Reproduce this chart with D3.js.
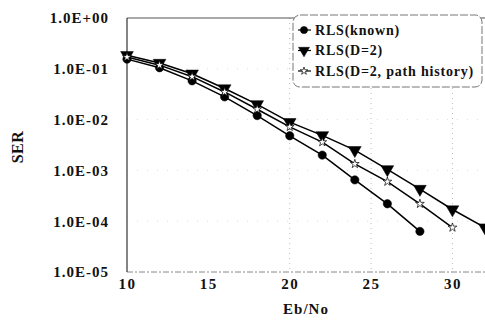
<!DOCTYPE html>
<html>
<head>
<meta charset="utf-8">
<script src="https://cdn.jsdelivr.net/npm/d3@7"></script>
<style>
  body { margin: 0; background: #fff; }
  svg text { font-family: "Liberation Serif", "Times New Roman", serif !important; font-weight: bold; fill: #111; }
</style>
</head>
<body>
<svg id="chart"></svg>
<script>
// SER vs Eb/No, three receivers
var ebnoKnown = [10, 12, 14, 16, 18, 20, 22, 24, 26, 28];
var serKnown  = [0.155, 0.105, 0.058, 0.028, 0.012, 0.0048, 0.0020, 0.00065, 0.00022, 0.000063];

var ebnoD2 = [10, 12, 14, 16, 18, 20, 22, 24, 26, 28, 30, 32];
var serD2  = [0.185, 0.13, 0.08, 0.041, 0.020, 0.0089, 0.0049, 0.0025, 0.00105, 0.00043, 0.00017, 0.000075];

var ebnoPath = [10, 12, 14, 16, 18, 20, 22, 24, 26, 28, 30];
var serPath  = [0.17, 0.118, 0.07, 0.035, 0.016, 0.0072, 0.0036, 0.00134, 0.0006, 0.00022, 0.000075];

var xTicks = [10, 15, 20, 25, 30];
var yTicks = [1, 1e-1, 1e-2, 1e-3, 1e-4, 1e-5];
var yTickLabels = ["1.0E+00", "1.0E-01", "1.0E-02", "1.0E-03", "1.0E-04", "1.0E-05"];
var seriesNames = ["RLS(known)", "RLS(D=2)", "RLS(D=2, path history)"];

var width = 485, height = 322;
var svg = d3.select("#chart").attr("width", width).attr("height", height);

var x = d3.scaleLinear().domain([10, 32]).range([127, 485]);
var y = d3.scaleLog().domain([1e-5, 1]).range([272, 18]);

// faint dotted grid
svg.append("g").selectAll("line").data([20, 25, 30]).join("line")
    .attr("x1", d => x(d)).attr("x2", d => x(d))
    .attr("y1", y(1)).attr("y2", y(1e-5))
    .attr("stroke", "#bbb").attr("stroke-width", 1).attr("stroke-dasharray", "1,4");
svg.append("g").selectAll("line").data([1e-1, 1e-2, 1e-3, 1e-4]).join("line")
    .attr("x1", x(10)).attr("x2", x(32))
    .attr("y1", d => y(d)).attr("y2", d => y(d))
    .attr("stroke", "#ddd").attr("stroke-width", 1).attr("stroke-dasharray", "1,9");

// frame
svg.append("line").attr("x1", x(10)).attr("x2", x(32)).attr("y1", y(1)).attr("y2", y(1))
    .attr("stroke", "#555").attr("stroke-width", 1);
svg.append("line").attr("x1", x(10)).attr("x2", x(32)).attr("y1", y(1e-5)).attr("y2", y(1e-5))
    .attr("stroke", "#888").attr("stroke-width", 1).attr("stroke-dasharray", "6,2,2,2");
svg.append("line").attr("x1", x(10)).attr("x2", x(10)).attr("y1", y(1)).attr("y2", y(1e-5))
    .attr("stroke", "#333").attr("stroke-width", 1.2);

// axes labels
var xAxis = d3.axisBottom(x).tickValues(xTicks).tickSize(0).tickPadding(6);
var gx = svg.append("g").attr("transform", "translate(0," + y(1e-5) + ")").call(xAxis)
    .attr("font-family", null);
gx.select(".domain").remove();
gx.selectAll("text").style("font-size", "15px").style("letter-spacing", "1.5px").attr("fill", "#111");

var yAxis = d3.axisLeft(y).tickValues(yTicks).tickSize(0).tickPadding(18)
    .tickFormat((d, i) => yTickLabels[i]);
var gy = svg.append("g").attr("transform", "translate(" + x(10) + ",0)").call(yAxis)
    .attr("font-family", null);
gy.select(".domain").remove();
gy.selectAll("text").style("font-size", "15px").style("letter-spacing", "1px").attr("fill", "#111");

svg.append("text").attr("x", x(21)).attr("y", 314).attr("text-anchor", "middle")
    .style("font-size", "15px").style("letter-spacing", "1px").text("Eb/No");
svg.append("text").attr("transform", "translate(23,147) rotate(-90)")
    .attr("text-anchor", "middle").style("font-size", "16px").style("letter-spacing", "0.5px").text("SER");

// series
var line = d3.line().x(d => x(d[0])).y(d => y(d[1]));
var series = [
  { xs: ebnoKnown, ys: serKnown, sym: d3.symbolCircle, size: 55, fill: "#000", rot: 0 },
  { xs: ebnoD2, ys: serD2, sym: d3.symbolTriangle, size: 70, fill: "#000", rot: 180 },
  { xs: ebnoPath, ys: serPath, sym: d3.symbolStar, size: 24, fill: "#fff", rot: 0 }
];

series.forEach(function (s) {
  var pts = s.xs.map((v, i) => [v, s.ys[i]]);
  svg.append("path").datum(pts).attr("d", line)
      .attr("fill", "none").attr("stroke", "#000").attr("stroke-width", 1.5);
});
series.forEach(function (s) {
  var pts = s.xs.map((v, i) => [v, s.ys[i]]);
  svg.append("g").selectAll("path").data(pts).join("path")
      .attr("d", d3.symbol().type(s.sym).size(s.size))
      .attr("transform", d => "translate(" + x(d[0]) + "," + y(d[1]) + ") rotate(" + s.rot + ")")
      .attr("fill", s.fill).attr("stroke", "#000").attr("stroke-width", s.fill === "#fff" ? 0.7 : 0.5);
});

// legend
var lg = svg.append("g");
lg.append("rect").attr("x", 293).attr("y", 15).attr("width", 189).attr("height", 72)
    .attr("rx", 7).attr("fill", "#fff").attr("stroke", "#777").attr("stroke-width", 1)
    .attr("stroke-dasharray", "8,2");
seriesNames.forEach(function (name, i) {
  var s = series[i], cy = 30 + i * 20.5;
  lg.append("line").attr("x1", 298).attr("x2", 311).attr("y1", cy).attr("y2", cy)
      .attr("stroke", "#000").attr("stroke-width", 1.2);
  lg.append("path").attr("d", d3.symbol().type(s.sym).size(s.size * 0.75))
      .attr("transform", "translate(304," + cy + ") rotate(" + s.rot + ")")
      .attr("fill", s.fill).attr("stroke", "#000").attr("stroke-width", s.fill === "#fff" ? 0.7 : 0.5);
  lg.append("text").attr("x", 315).attr("y", cy + 4.5)
      .style("font-size", "14px").style("letter-spacing", "0.8px").text(name);
});
</script>
</body>
</html>
